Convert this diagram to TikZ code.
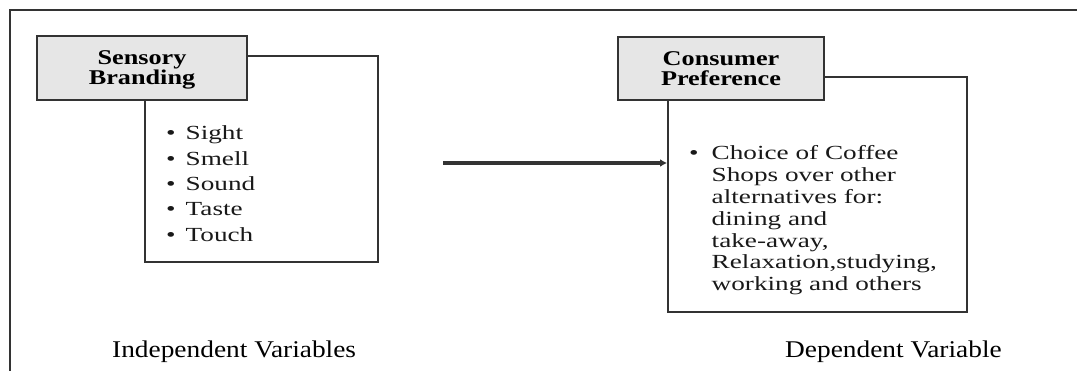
\documentclass[tikz,border=0pt]{standalone}
\usepackage{fontspec}
\setmainfont{Liberation Serif}
\newfontfamily\listfont[FakeStretch=1.36]{Liberation Serif}
\newfontfamily\headfont[FakeStretch=1.25]{Liberation Serif}
\newfontfamily\capfont[FakeStretch=1.14]{Liberation Serif}
\usetikzlibrary{arrows.meta}
\definecolor{linegray}{HTML}{333333}
\definecolor{headfill}{HTML}{E6E6E6}
\tikzset{
 frame/.style={draw=linegray, line width=2.2pt},
 headbox/.style={draw=linegray, fill=headfill, line width=2.2pt, inner sep=0pt, align=center, text depth=0pt, font=\headfont\bfseries\fontsize{21}{20}\selectfont},
 bodybox/.style={draw=linegray, line width=2.2pt, inner sep=0pt},
 listtext/.style={inner sep=0pt, anchor=base west, text=black!90, font=\listfont\fontsize{20}{25.3}\selectfont},
 caption/.style={inner sep=0pt, anchor=base west, font=\capfont\fontsize{24}{28}\selectfont},
 link/.style={draw=linegray, line width=3.6pt, -{Latex[length=7pt,width=8pt]}}
}
\begin{document}
\begin{tikzpicture}[x=1pt,y=-1pt]
\useasboundingbox (0,0) rectangle (1077,371);
\draw[frame] (10,371) -- (10,10) -- (1077,10);
% left
\node[bodybox, minimum width=233, minimum height=206, anchor=north west] (lbody) at (144,55) {};
\node[headbox, minimum width=210, minimum height=64] (lhead) at (142,68) {Sensory\\Branding};
\node[listtext] (llist) at (166,140) {\begin{tabular}[t]{@{}l@{\hspace{10pt}}l@{}}
\textbullet & Sight\\
\textbullet & Smell\\
\textbullet & Sound\\
\textbullet & Taste\\
\textbullet & Touch
\end{tabular}};
% right
\node[bodybox, minimum width=299, minimum height=235, anchor=north west] (rbody) at (667,76) {};
\node[headbox, minimum width=206, minimum height=63] (rhead) at (721,68.5) {Consumer\\Preference};
\node[listtext, font=\listfont\fontsize{20}{21.8}\selectfont] (rlist) at (689,160) {\begin{tabular}[t]{@{}l@{\hspace{13pt}}l@{}}
\textbullet & Choice of Coffee\\
 & Shops over other\\
 & alternatives for:\\
 & dining and\\
 & take-away,\\
 & Relaxation,studying,\\
 & working and others
\end{tabular}};
% arrow
\coordinate (astart) at (443,163);
\draw[link] (astart) -- (astart -| rbody.west);
% captions
\node[caption] (indep) at (112,358) {Independent Variables};
\node[caption] (dep) at (785,358) {Dependent Variable};
\end{tikzpicture}
\end{document}
